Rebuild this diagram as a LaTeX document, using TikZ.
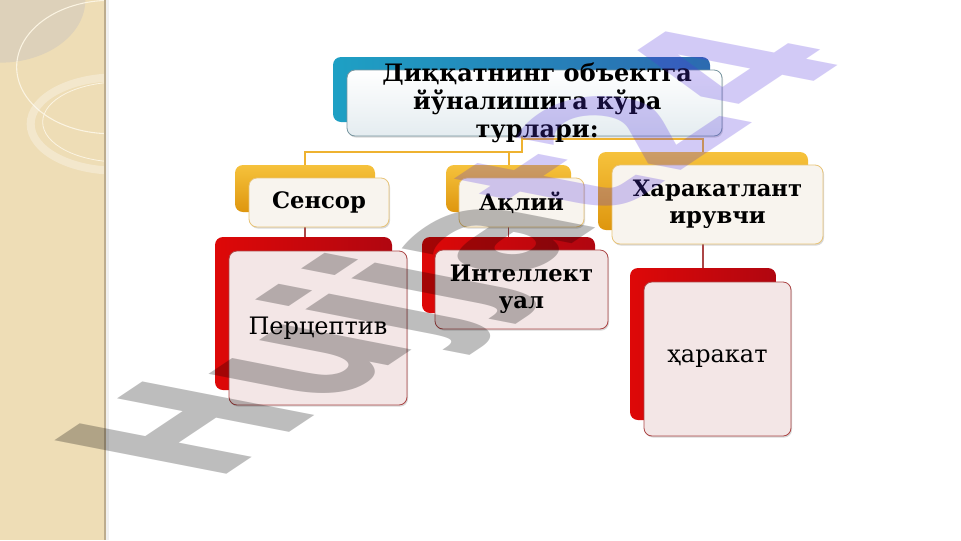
\documentclass[tikz,border=0pt]{standalone}
\usepackage{fontspec}
\setmainfont{DejaVu Serif}
\newfontfamily\markfont{DejaVu Sans}
\usepackage{tikz}
\usetikzlibrary{positioning,shadows}

\definecolor{stripbg}{RGB}{238,221,182}
\definecolor{stripdark}{RGB}{221,209,186}
\definecolor{stripedge}{RGB}{188,172,142}
\definecolor{ringcream}{RGB}{251,244,226}
\definecolor{tealA}{RGB}{30,160,196}
\definecolor{tealB}{RGB}{44,106,176}
\definecolor{goldA}{RGB}{246,194,60}
\definecolor{goldB}{RGB}{222,150,14}
\definecolor{goldline}{RGB}{238,178,48}
\definecolor{goldedge}{RGB}{232,196,120}
\definecolor{redA}{RGB}{222,8,8}
\definecolor{redB}{RGB}{176,6,16}
\definecolor{redline}{RGB}{172,70,70}
\definecolor{pinkfill}{RGB}{243,230,230}
\definecolor{creamfill}{RGB}{248,244,238}
\definecolor{icefill}{RGB}{228,236,240}
\definecolor{iceedge}{RGB}{120,150,160}
\definecolor{wmpurple}{RGB}{84,51,223}

\begin{document}
\begin{tikzpicture}[x=0.75pt,y=-0.75pt,
    back/.style={rounded corners=6pt, inner sep=0pt},
    topback/.style={back, left color=tealA, right color=tealB},
    midback/.style={back, top color=goldA, bottom color=goldB},
    lowback/.style={back, left color=redA, right color=redB},
    front/.style={rounded corners=6pt, inner sep=2pt, align=center, line width=0.6pt,
      drop shadow={shadow xshift=0.8pt, shadow yshift=-1.2pt, opacity=0.3}},
    topfront/.style={front, draw=iceedge, top color=white, bottom color=icefill},
    midfront/.style={front, draw=goldedge, fill=creamfill, font=\bfseries\fontsize{17}{20.5}\selectfont},
    lowfront/.style={front, draw=redline, fill=pinkfill, font=\fontsize{18}{21}\selectfont},
    goldlink/.style={goldline, line width=1.5pt},
    redlink/.style={redline, line width=0.9pt}]

    \useasboundingbox (0,0) rectangle (961,540);
    \fill[white] (0,0) rectangle (961,540);

    % left strip
    \fill[stripbg] (0,0) rectangle (105,540);
    \begin{scope}
        \clip (0,0) rectangle (104,540);
        \fill[stripdark] (0,0) ellipse [x radius=64pt, y radius=47pt];
        \draw[ringcream, line width=0.8pt] (110,67) ellipse [x radius=70pt, y radius=50pt];
        \draw[white, opacity=0.3, line width=6pt] (116,124) ellipse [x radius=64pt, y radius=35pt];
        \draw[ringcream, line width=0.6pt] (120,122) ellipse [x radius=58pt, y radius=30pt];
    \end{scope}
    \fill[stripedge] (104,0) rectangle (106,540);
    \fill[black, opacity=0.06] (106,0) rectangle (109,540);

    % back boxes
    \node[topback, minimum width=282.75pt, minimum height=48.75pt] (titleback) at (521.5,89.5) {};
    \node[midback, minimum width=105pt, minimum height=35.25pt] (sensorback) at (305,188.5) {};
    \node[midback, minimum width=93.75pt, minimum height=35.25pt] (aqlback) at (508.5,188.5) {};
    \node[midback, minimum width=157.5pt, minimum height=58.5pt] (motorback) at (703,191) {};
    \node[lowback, minimum width=132.75pt, minimum height=114.75pt] (percback) at (303.5,313.5) {};
    \node[lowback, minimum width=129.75pt, minimum height=57pt] (intback) at (508.5,275) {};
    \node[lowback, minimum width=109.5pt, minimum height=114pt] (actback) at (703,344) {};

    % connectors
    \draw[goldlink] (titleback.south) -- ++(0,30) -| (sensorback.north);
    \draw[goldlink] (titleback.south) -- ++(0,30) -| (aqlback.north);
    \draw[goldlink] (titleback.south) -- ++(0,17) -| (motorback.north);
    \draw[redlink] (sensorback.south) -- (sensorback.south |- percback.north);
    \draw[redlink] (aqlback.south) -- (aqlback.south |- intback.north);
    \draw[redlink] (motorback.south) -- (motorback.south |- actback.north);

    % front boxes
    \node[topfront, minimum width=281.25pt, minimum height=49.5pt] (title) at ([shift={(13,13.5)}]titleback.center) {};
    \node[font=\bfseries\fontsize{18}{21}\selectfont, align=center] (titletext) at ([xshift=2]title.center) {Диққатнинг объектга\\йўналишига кўра\\турлари:};
    \node[midfront, minimum width=105pt, minimum height=36.75pt] (sensor) at ([shift={(14,14)}]sensorback.center) {Сенсор};
    \node[midfront, minimum width=93.75pt, minimum height=36.75pt] (aql) at ([shift={(13,14)}]aqlback.center) {Ақлий};
    \node[midfront, minimum width=158.25pt, minimum height=59.25pt] (motor) at ([shift={(14.5,13.5)}]motorback.center) {Харакатлант\\ирувчи};
    \node[lowfront, minimum width=133.5pt, minimum height=115.5pt] (perc) at ([shift={(14.5,14.5)}]percback.center) {Перцептив};
    \node[lowfront, minimum width=129.75pt, minimum height=59.25pt, font=\bfseries\fontsize{17}{20.5}\selectfont] (int) at ([shift={(13,14.5)}]intback.center) {Интеллект\\уал};
    \node[lowfront, minimum width=110.25pt, minimum height=115.5pt] (act) at ([shift={(14.5,15)}]actback.center) {ҳаракат};

    % watermark
    \begin{scope}[shift={(212,484)}, cm={10.1,6.75,-17.7,3.45,(0,0)}]
        \node[transform shape, anchor=base west, inner sep=0pt, text opacity=0.26,
              font=\markfont\bfseries\fontsize{10}{12}\selectfont] (watermark) at (0,0)
              {\textcolor{black}{Hujja}\textcolor{wmpurple}{t24}};
    \end{scope}
\end{tikzpicture}
\end{document}
